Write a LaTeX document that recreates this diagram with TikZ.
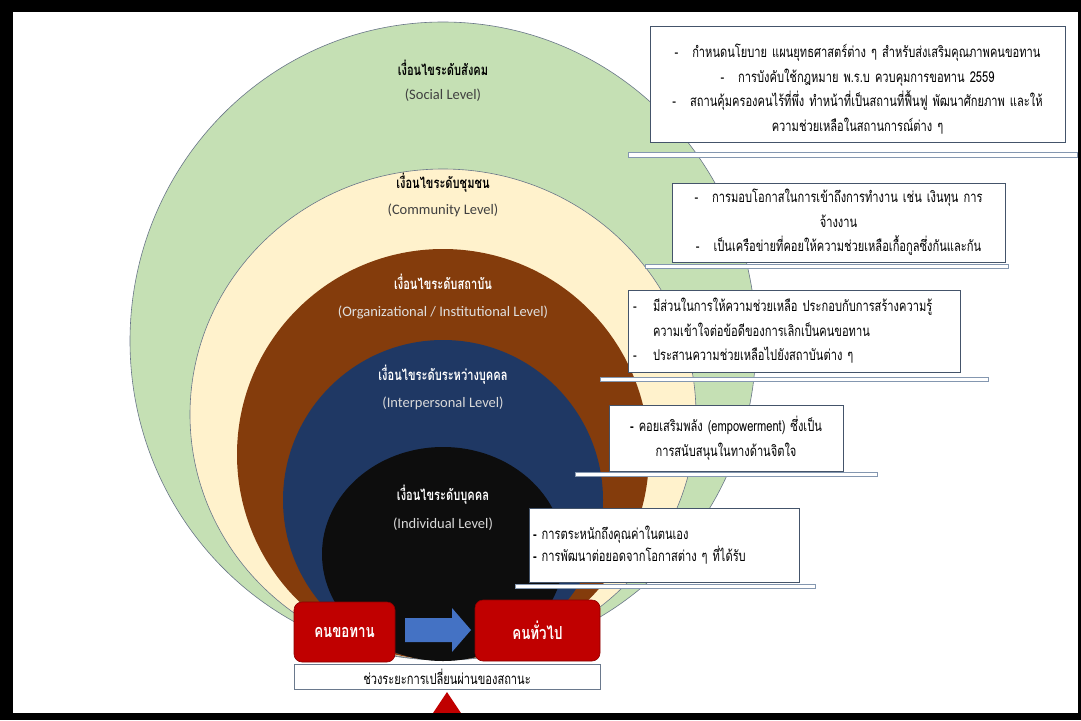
\documentclass[tikz,border=0pt]{standalone}
\usepackage{fontspec}
\setmainfont{Carlito}
\newfontfamily\thai[Script=Thai,FakeStretch=0.74]{Loma}
\newfontfamily\lat{Carlito}
\usetikzlibrary{shapes.geometric}
\definecolor{cgreen}{HTML}{C5E0B4}
\definecolor{ccream}{HTML}{FFF2CC}
\definecolor{cbrown}{HTML}{843C0C}
\definecolor{cblue}{HTML}{1F3864}
\definecolor{cblack}{HTML}{0D0D0D}
\definecolor{cred}{HTML}{C00000}
\definecolor{cdred}{HTML}{8B0000}
\definecolor{carrow}{HTML}{4472C4}
\definecolor{cedge}{HTML}{44546A}
\definecolor{cbar}{HTML}{8497B0}
\definecolor{csub}{HTML}{404040}
\newcommand\dashi{\makebox[20pt][l]{-}}
\begin{document}
\begin{tikzpicture}[x=1pt,y=-1pt,
  ring/.style={ellipse,draw=cedge!80,line width=0.6pt,inner sep=0pt},
  title/.style={font=\thai\bfseries\fontsize{15}{17}\selectfont},
  sub/.style={font=\lat\fontsize{14.5}{16}\selectfont},
  infobox/.style={draw=cedge,fill=white,line width=0.7pt,inner sep=4pt,
    font=\thai\fontsize{15}{24.5}\selectfont},
  infotext/.style={inner sep=0pt,font=\thai\fontsize{15}{24.5}\selectfont},
  barbox/.style={draw=cbar,fill=white,line width=0.7pt,inner sep=0pt,minimum height=5pt},
  redbox/.style={draw=cdred,fill=cred,rounded corners=8pt,line width=0.6pt,inner sep=0pt,
    text=white,font=\thai\bfseries\fontsize{18}{20}\selectfont},
  labelbox/.style={draw=cbar!80!black,fill=white,line width=0.7pt,inner sep=0pt,
    font=\thai\fontsize{15}{17}\selectfont}]
\useasboundingbox (0,0) rectangle (1081,720);
% frame
\fill[black] (0,0) rectangle (1081,720);
\fill[white] (13,12) rectangle (1078,713);
% rings
\node[ring,fill=cgreen,minimum width=626pt,minimum height=638pt] (social) at (443,341) {};
\node[ring,fill=ccream,minimum width=506pt,minimum height=491pt] (community) at (443,414.5) {};
\node[ring,draw=none,fill=cbrown,minimum width=412pt,minimum height=411pt] (inst) at (443,454.5) {};
\node[ring,draw=none,fill=cblue,minimum width=320pt,minimum height=320pt] (inter) at (443,500) {};
\node[ring,draw=none,fill=cblack,minimum width=242pt,minimum height=214pt] (indiv) at (443,554) {};
% ring titles
\node[title] (socT) at (443,68) {เงื่อนไขระดับสังคม};
\node[sub,text=csub] (socS) at (443,95) {(Social Level)};
\node[title] (comT) at (443,183) {เงื่อนไขระดับชุมชน};
\node[sub,text=csub] (comS) at (443,210) {(Community Level)};
\node[title,text=white] (insT) at (443,282) {เงื่อนไขระดับสถาบัน};
\node[sub,text=white!88!black] (insS) at (443,312) {(Organizational / Institutional Level)};
\node[title,text=white] (intT) at (443,375) {เงื่อนไขระดับระหว่างบุคคล};
\node[sub,text=white!85!black] (intS) at (443,403) {(Interpersonal Level)};
\node[title,text=white] (indT) at (443,495) {เงื่อนไขระดับบุคคล};
\node[sub,text=white!85!black] (indS) at (443,524) {(Individual Level)};
% info boxes and their base bars
\node[barbox,minimum width=449pt] (socbar) at (852.5,155) {};
\node[infobox,minimum width=415pt,minimum height=116pt] (socbox) at (857.5,84) {};
\node[infotext,text width=405pt,align=center] (soctxt) at (857.5,89) {%
-\hspace{14pt}กำหนดนโยบาย แผนยุทธศาสตร์ต่าง ๆ สำหรับส่งเสริมคุณภาพคนขอทาน\\
-\hspace{14pt}การบังคับใช้กฎหมาย พ.ร.บ ควบคุมการขอทาน 2559\\
-\hspace{14pt}สถานคุ้มครองคนไร้ที่พึ่ง ทำหน้าที่เป็นสถานที่ฟื้นฟู พัฒนาศักยภาพ และให้\\
ความช่วยเหลือในสถานการณ์ต่าง ๆ};
\node[barbox,minimum width=363pt,minimum height=4pt] (combar) at (826.5,266) {};
\node[infobox,minimum width=333pt,minimum height=79pt,text width=325pt,align=center] (combox) at (838.5,222.5) {%
-\hspace{14pt}การมอบโอกาสในการเข้าถึงการทำงาน เช่น เงินทุน การ\\
จ้างงาน\\
-\hspace{14pt}เป็นเครือข่ายที่คอยให้ความช่วยเหลือเกื้อกูลซึ่งกันและกัน};
\node[barbox,minimum width=388pt,minimum height=4pt] (insbar) at (794,379) {};
\node[infobox,minimum width=332pt,minimum height=82pt,text width=322pt,align=left] (insbox) at (794,331) {%
\dashi มีส่วนในการให้ความช่วยเหลือ ประกอบกับการสร้างความรู้\\
\hspace*{20pt}ความเข้าใจต่อข้อดีของการเลิกเป็นคนขอทาน\\
\dashi ประสานความช่วยเหลือไปยังสถาบันต่าง ๆ};
\node[barbox,minimum width=302pt,minimum height=4pt] (intbar) at (726,474) {};
\node[infobox,minimum width=234pt,minimum height=66pt,text width=226pt,align=center] (intbox) at (726,438) {%
\textbf{-} คอยเสริมพลัง (empowerment) ซึ่งเป็น\\
การสนับสนุนในทางด้านจิตใจ};
\node[barbox,minimum width=300pt,minimum height=4pt] (indbar) at (665,586) {};
\node[infobox,minimum width=268pt,minimum height=74pt,text width=262pt,align=left,
  font=\thai\fontsize{15}{22}\selectfont] (indbox) at (664,545) {%
\textbf{-} การตระหนักถึงคุณค่าในตนเอง\\
\textbf{-} การพัฒนาต่อยอดจากโอกาสต่าง ๆ ที่ได้รับ};
% bottom: status transition
\fill[cred] (447,692) -- (463,716) -- (431,716) -- cycle;
\node[redbox,minimum width=101pt,minimum height=60pt] (beggar) at (344.5,632) {คนขอทาน};
\node[redbox,minimum width=125pt,minimum height=61pt] (general) at (537.5,630.5) {คนทั่วไป};
\coordinate (arrtail) at (405,630);
\coordinate (arrtip) at (471,630);
\fill[carrow] (arrtail) ++(0,-12) -- ++(47,0) -- ++(0,-10) -- (arrtip) -- ++(-19,22) -- ++(0,-10) -- ++(-47,0) -- cycle;
\node[labelbox,minimum width=306pt,minimum height=25pt] (trans) at (447,676.5) {ช่วงระยะการเปลี่ยนผ่านของสถานะ};
\fill[black] (0,713) rectangle (1081,720);
\end{tikzpicture}
\end{document}
